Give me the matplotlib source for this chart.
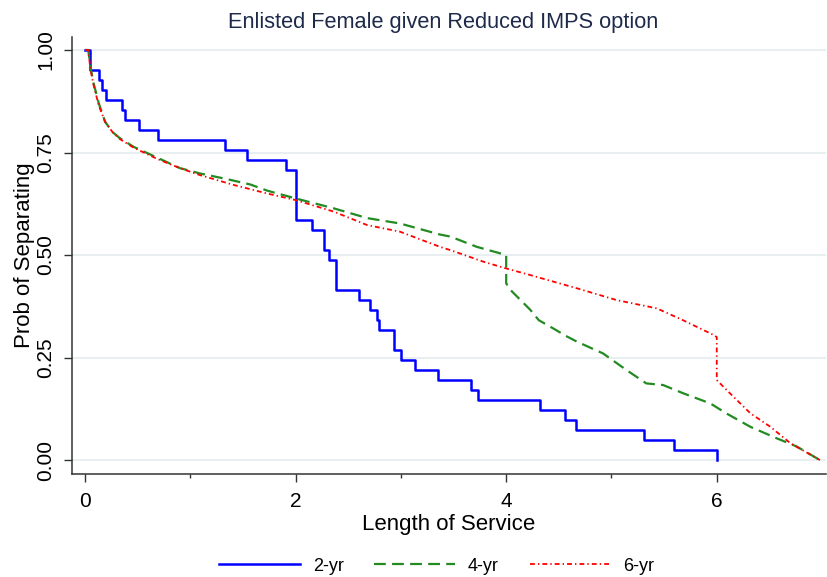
import numpy as np
import matplotlib
matplotlib.use("Agg")
from matplotlib import pyplot as plt

plt.rcParams['font.family'] = ['Liberation Sans', 'DejaVu Sans']
plt.rcParams['lines.scale_dashes'] = False

# 2-yr: Kaplan-Meier steps (n = 41), time of each drop and value after it
t2 = [0.0, 0.05, 0.135, 0.16, 0.20, 0.35, 0.38, 0.51, 0.69, 1.33, 1.54, 1.91,
      2.0, 2.16, 2.265, 2.32, 2.38, 2.60, 2.71, 2.775, 2.795, 2.935, 3.0,
      3.13, 3.35, 3.665, 3.73, 4.32, 4.56, 4.665, 5.31, 5.595, 6.0]
s2 = [1.0, 0.951, 0.927, 0.902, 0.878, 0.854, 0.829, 0.805, 0.780, 0.756,
      0.732, 0.707, 0.585, 0.561, 0.512, 0.488, 0.415, 0.390, 0.366, 0.341,
      0.317, 0.268, 0.244, 0.220, 0.195, 0.171, 0.146, 0.122, 0.098, 0.073,
      0.049, 0.024, 0.0]

# 4-yr
t4 = [0.0, 0.03, 0.05, 0.08, 0.13, 0.19, 0.26, 0.33, 0.46, 0.68, 0.90, 1.09,
      1.35, 1.57, 1.73, 2.0, 2.36, 2.68, 2.99, 3.37, 3.47, 3.72, 4.0, 4.0,
      4.04, 4.23, 4.31, 4.42, 4.58, 4.67, 4.92, 5.14, 5.33, 5.49, 5.68, 5.94,
      6.09, 6.32, 6.57, 6.76, 6.98]
s4 = [1.0, 1.0, 0.96, 0.92, 0.87, 0.825, 0.80, 0.785, 0.764, 0.738, 0.712,
      0.699, 0.685, 0.672, 0.657, 0.638, 0.614, 0.590, 0.577, 0.550, 0.545,
      0.520, 0.500, 0.431, 0.415, 0.366, 0.341, 0.325, 0.301, 0.289, 0.260,
      0.220, 0.187, 0.183, 0.163, 0.138, 0.114, 0.081, 0.053, 0.033, 0.0]

# 6-yr
t6 = [0.0, 0.03, 0.05, 0.08, 0.13, 0.19, 0.26, 0.33, 0.46, 0.68, 0.90, 1.09,
      1.41, 1.73, 2.0, 2.36, 2.68, 2.99, 3.37, 3.47, 3.78, 3.99, 4.23, 4.67,
      5.05, 5.43, 5.68, 5.97, 6.0, 6.0, 6.16, 6.32, 6.51, 6.70, 6.98]
s6 = [1.0, 1.0, 0.955, 0.915, 0.865, 0.825, 0.80, 0.783, 0.762, 0.735, 0.712,
      0.695, 0.671, 0.650, 0.634, 0.606, 0.573, 0.557, 0.520, 0.512, 0.484,
      0.468, 0.451, 0.419, 0.390, 0.370, 0.341, 0.305, 0.30, 0.195, 0.154,
      0.114, 0.081, 0.041, 0.0]

labels = ['2-yr', '4-yr', '6-yr']
xticks = [0, 2, 4, 6]
yticks = [0.0, 0.25, 0.50, 0.75, 1.0]


def main():
  fig = plt.figure(figsize=(8.27, 5.77), dpi=100)
  ax = fig.add_axes([0.0867, 0.1785, 0.912, 0.7579])

  for y in yticks:
    ax.axhline(y, color='#e6eef0', linewidth=1.3, zorder=0)

  ax.plot(t2, s2, drawstyle='steps-post', color='#0000ff', linewidth=1.8,
          label=labels[0])
  ax.plot(t4, s4, color='#228b22', linewidth=1.6, dashes=(8.5, 4.5),
          label=labels[1])
  ax.plot(t6, s6, color='#ff0000', linewidth=1.3, dashes=(3.5, 2.2, 1.0, 2.2),
          label=labels[2])

  ax.set_xlim(-0.127, 7.037)
  ax.set_ylim(-0.034, 1.0324)
  ax.set_xticks(xticks)
  ax.set_xticks([1, 3, 5], minor=True)
  ax.set_yticks(yticks)
  ax.set_yticklabels(['%.2f' % y for y in yticks], rotation=90, va='center')

  for side in ['top', 'right']:
    ax.spines[side].set_visible(False)
  for side in ['left', 'bottom']:
    ax.spines[side].set_color('#333333')
    ax.spines[side].set_linewidth(1.1)

  ax.tick_params(axis='both', which='major', direction='out', length=6,
                 width=1.0, color='#333333', labelsize=15, pad=7)
  ax.tick_params(axis='y', which='major', pad=6)
  ax.tick_params(axis='x', which='minor', direction='out', length=3,
                 width=1.0, color='#333333')

  ax.set_xlabel('Length of Service', fontsize=16, labelpad=2)
  ax.set_ylabel('Prob of Separating', fontsize=16, labelpad=1)
  fig.text(0.536, 0.952, 'Enlisted Female given Reduced IMPS option',
           fontsize=15.7, color='#1e2a4a', ha='center', va='baseline')

  fig.legend(loc='center', bbox_to_anchor=(0.528, 0.019), ncol=3,
             frameon=False, fontsize=13, handlelength=4.5,
             handletextpad=0.7, columnspacing=1.7)

  fig.savefig('out.png', dpi=100)


if __name__ == "__main__":
  main()
